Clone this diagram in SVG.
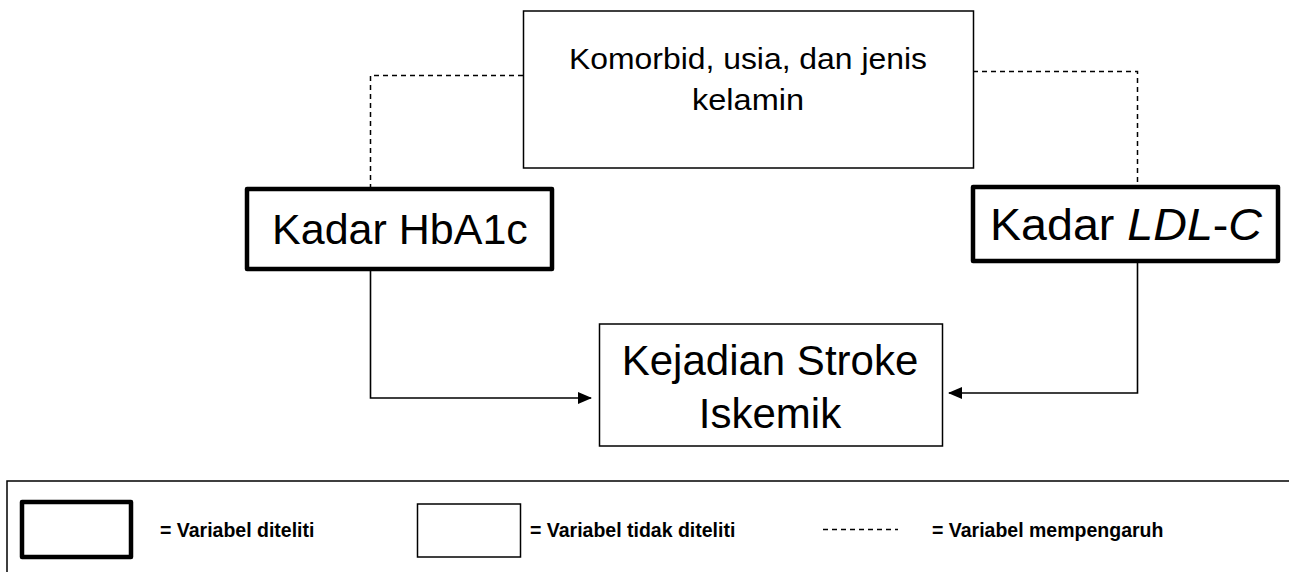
<svg xmlns="http://www.w3.org/2000/svg" width="1289" height="572" viewBox="0 0 1289 572">
<style>
.t{font-family:"Liberation Sans",Arial,sans-serif;fill:#000;text-anchor:middle}
.thin{fill:#fff;stroke:#000;stroke-width:1.5}
.thick{fill:#fff;stroke:#000;stroke-width:4.5;stroke-linejoin:round}
.dash{fill:none;stroke:#000;stroke-width:1.5;stroke-dasharray:5,4}
.line{fill:none;stroke:#000;stroke-width:1.6}
.lg{font-family:"Liberation Sans",Arial,sans-serif;font-weight:bold;font-size:19.5px;fill:#000}
</style>
<defs>
<marker id="ah" markerWidth="14" markerHeight="12" refX="13" refY="6" orient="auto" markerUnits="userSpaceOnUse">
<path d="M0,0 L14,6 L0,12 Z" fill="#000"/>
</marker>
</defs>
<g id="connectors">
<path class="dash" d="M523,75.5 H370.5 V189"/>
<path class="dash" d="M973,71.5 H1137.5 V187"/>
<path class="line" d="M370.5,269 V398 H591" marker-end="url(#ah)"/>
<path class="line" d="M1137.5,261 V393 H949" marker-end="url(#ah)"/>
</g>
<g id="node-komorbid">
<rect class="thin" x="523.5" y="11" width="450" height="157"/>
<text class="t" x="748" y="69" font-size="30" textLength="358" lengthAdjust="spacingAndGlyphs">Komorbid, usia, dan jenis</text>
<text class="t" x="748" y="110" font-size="30" textLength="112" lengthAdjust="spacingAndGlyphs">kelamin</text>
</g>
<g id="node-hba1c">
<rect class="thick" x="247" y="189" width="305" height="80"/>
<text class="t" x="400" y="244" font-size="43">Kadar HbA1c</text>
</g>
<g id="node-ldl">
<rect class="thick" x="973" y="187" width="305" height="74"/>
<text class="t" x="1126" y="240" font-size="44" textLength="272" lengthAdjust="spacingAndGlyphs">Kadar <tspan font-style="italic">LDL</tspan>-<tspan font-style="italic">C</tspan></text>
</g>
<g id="node-stroke">
<rect class="thin" x="599.5" y="324" width="343" height="122"/>
<text class="t" x="770" y="375" font-size="42">Kejadian Stroke</text>
<text class="t" x="770" y="428" font-size="42">Iskemik</text>
</g>
<g id="legend">
<rect class="thin" x="7" y="481" width="1300" height="120"/>
<rect class="thick" x="22" y="502" width="109" height="55"/>
<text class="lg" x="160" y="537">= Variabel diteliti</text>
<rect class="thin" x="417.5" y="504" width="103" height="53"/>
<text class="lg" x="530" y="537">= Variabel tidak diteliti</text>
<line class="dash" x1="823" y1="529.5" x2="898" y2="529.5" stroke-dasharray="6,6"/>
<text class="lg" x="932" y="537">= Variabel mempengaruh</text>
</g>
</svg>
